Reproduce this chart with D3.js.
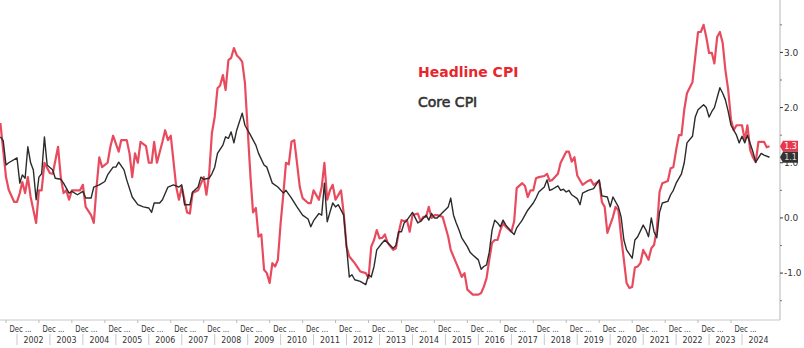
<!DOCTYPE html>
<head>
<meta charset="utf-8">
<script src="https://d3js.org/d3.v7.min.js"></script>
<style>
  body { margin: 0; background: #fff; }
  svg { display: block; }
</style>
</head>
<body>
<div id="chart"></div>
<script>
// months are counted from Jan 2002 (0 = Jan 2002, -6 = Jul 2001)
var headlineMonth = [-6,-4,-3,-1,0,1,2,3,4,5,7,8,9,10,12,13,15,16,17,18,19,20,23,24,25,27,28,29,30,31,33,34,35,37,38,40,41,42,43,44,45,47,48,49,50,51,53,54,55,56,58,59,60,62,63,64,66,68,69,70,71,72,73,74,75,76,77,78,79,80,81,82,83,84,85,86,87,88,89,90,91,92,93,94,95,96,97,98,99,100,101,102,103,104,106,107,108,110,111,112,113,114,115,116,118,119,120,121,123,125,127,128,129,130,131,132,133,134,135,137,138,139,140,141,142,143,144,146,147,148,149,150,151,152,153,155,156,157,158,160,161,162,163,164,166,168,169,170,171,172,173,174,175,176,177,178,180,181,182,184,185,186,187,188,189,190,192,193,194,195,197,198,200,201,202,203,204,206,208,209,210,212,213,214,215,217,218,219,220,221,222,223,224,225,226,227,228,229,230,231,232,233,234,235,237,238,239,240,241,242,243,244,246,247,248,249,250,251,252,253,254,255,256,257,258,259,260,261,262,264,265,266,267,268,269,270,272,273,274];
var headlineValue = [1.72,0.74,0.51,0.29,0.29,0.45,0.65,0.45,0.74,0.38,-0.09,0.5,0.5,1.0,0.81,0.8,1.29,0.74,0.45,0.5,0.33,0.5,0.5,0.6,0.2,0.05,-0.09,0.56,1.1,0.92,1.0,1.29,1.49,1.2,1.41,1.41,1.17,0.74,1.17,1.0,1.38,1.3,1.0,1.0,1.38,1.0,1.38,1.59,1.41,1.49,0.56,0.33,0.56,0.1,0.08,0.45,0.5,0.74,0.42,0.8,1.54,1.83,2.35,2.4,2.59,2.32,2.86,2.9,3.08,2.95,2.9,2.83,2.45,1.59,0.74,0.1,0.18,-0.34,-0.3,-0.94,-1.0,-1.18,-0.82,-0.88,-0.76,-0.09,0.45,1.0,0.97,1.38,1.41,1.0,0.56,0.36,0.27,0.27,0.5,0.33,0.56,1.0,0.33,0.5,0.6,0.33,0.5,0.08,-0.52,-0.7,-0.82,-0.97,-1.0,-1.09,-0.52,-0.4,-0.22,-0.37,-0.36,-0.3,-0.45,-0.58,-0.55,-0.27,-0.04,-0.06,-0.04,-0.25,0.05,0.08,-0.06,0.02,0.02,0.2,0.0,0.05,0.05,0.02,-0.16,-0.34,-0.58,-0.82,-0.94,-1.07,-1.0,-1.3,-1.39,-1.39,-1.36,-1.25,-1.09,-0.76,-0.45,-0.4,-0.4,-0.22,-0.09,-0.16,-0.25,-0.06,0.54,0.63,0.58,0.38,0.5,0.5,0.72,0.74,0.76,0.8,0.67,0.69,0.8,1.0,1.2,1.2,1.02,1.1,0.77,0.6,0.67,0.69,0.6,0.67,0.29,0.2,-0.27,0.02,0.2,0.14,-0.34,-0.76,-1.18,-1.27,-1.25,-0.9,-0.88,-0.82,-0.58,-0.67,-0.76,-0.55,-0.49,-0.22,0.47,0.63,0.67,0.9,0.92,1.23,1.5,1.5,1.96,2.26,2.46,2.92,3.37,3.37,3.5,3.28,2.99,2.99,2.8,3.28,3.37,3.17,2.68,2.32,1.78,1.59,1.68,1.68,1.41,1.68,1.23,1.1,1.01,1.38,1.38,1.28,1.3];

var coreMonth = [-6,-5,-4,-3,0,1,2,3,4,5,6,7,8,9,10,11,13,14,16,17,19,20,22,24,25,27,28,30,32,33,35,36,37,39,40,42,44,46,48,49,50,52,53,55,57,59,60,61,63,64,66,67,68,70,71,72,73,75,76,77,78,79,80,82,83,85,87,88,90,91,93,95,97,98,100,102,104,106,107,108,110,111,112,113,114,115,116,117,119,120,121,122,123,125,127,128,129,130,131,133,134,135,137,138,139,140,141,142,144,146,147,149,150,151,152,153,155,157,158,159,160,161,162,164,165,166,168,169,170,171,172,173,174,175,176,177,178,180,181,182,184,186,188,189,190,192,193,194,195,197,198,199,200,201,202,204,205,206,208,210,212,213,215,216,217,219,220,221,222,224,225,226,228,229,230,231,232,233,234,235,237,238,239,240,242,243,244,246,247,248,250,251,252,253,254,256,257,258,259,260,262,263,264,265,266,268,269,271,272,274];
var coreValue = [1.47,1.4,0.96,1.0,1.09,0.63,0.78,0.72,1.29,1.0,0.87,0.33,0.74,0.8,1.47,0.96,0.87,0.72,0.7,0.63,0.45,0.48,0.42,0.48,0.36,0.36,0.56,0.6,0.66,0.78,0.92,0.92,1.01,0.87,0.69,0.38,0.24,0.2,0.18,0.1,0.27,0.27,0.33,0.56,0.6,0.56,0.6,0.24,0.24,0.47,0.56,0.74,0.7,0.72,0.8,0.92,1.17,1.32,1.47,1.44,1.56,1.36,1.59,1.9,1.68,1.5,1.32,1.17,0.96,0.92,0.63,0.56,0.45,0.5,0.36,0.2,0.05,-0.02,-0.16,-0.05,0.08,0.05,0.63,-0.07,0.1,0.27,0.2,0.24,0.05,-0.52,-1.07,-1.03,-1.12,-1.15,-1.21,-1.03,-1.07,-0.88,-0.58,-0.45,-0.4,-0.45,-0.55,-0.5,-0.25,-0.25,-0.09,-0.04,0.1,-0.09,-0.06,0.05,-0.04,0.08,0.0,0.0,0.1,0.2,0.36,0.05,-0.09,-0.22,-0.36,-0.52,-0.62,-0.67,-0.76,-0.93,-0.88,-0.85,-0.62,-0.22,-0.04,-0.09,-0.16,-0.04,-0.13,-0.25,-0.3,-0.18,-0.04,0.14,0.27,0.36,0.47,0.56,0.69,0.5,0.52,0.58,0.5,0.52,0.47,0.5,0.42,0.35,0.24,0.45,0.5,0.53,0.69,0.4,0.38,0.2,0.38,0.2,0.02,-0.4,-0.58,-0.73,-0.4,-0.34,-0.13,-0.22,-0.34,0.0,-0.25,-0.36,0.1,0.27,0.3,0.42,0.5,0.63,0.8,1.0,1.36,1.48,1.83,1.96,2.05,2.0,1.83,1.93,2.0,2.36,2.26,2.14,1.93,1.68,1.5,1.36,1.48,1.36,1.5,1.2,1.01,1.17,1.14,1.1];

var years = d3.range(2002, 2025);
var yTicks = [-1, 0, 1, 2, 3];
var yMinorTicks = [-1.5, -0.5, 0.5, 1.5, 2.5, 3.5];
var lastHeadline = "1.3", lastCore = "1.1";

var width = 804, height = 348;
var plotRight = 780, plotBottom = 320;

var svg = d3.select("#chart")
  .append("svg")
    .attr("width", width)
    .attr("height", height);

// time axis: Jan 2002 sits at 17px, Jan 2024 at 742px
var x = d3.scaleTime()
  .domain([new Date(2002, 0, 1), new Date(2024, 0, 1)])
  .range([17, 742]);

var y = d3.scaleLinear()
  .domain([-1.85, 3.95])
  .range([plotBottom, 0]);

function toData(months, values) {
  return months.map(function(m, i) {
    return { date: d3.timeMonth.offset(new Date(2002, 0, 1), m), value: values[i] };
  });
}
var headline = toData(headlineMonth, headlineValue);
var core = toData(coreMonth, coreValue);

svg.append("clipPath").attr("id", "plotclip")
  .append("rect").attr("x", 0).attr("y", 0).attr("width", plotRight).attr("height", plotBottom);

var line = d3.line()
  .x(function(d) { return x(d.date); })
  .y(function(d) { return y(d.value); });

var plot = svg.append("g").attr("clip-path", "url(#plotclip)");

plot.append("path")
  .datum(headline)
  .attr("fill", "none")
  .attr("stroke", "#e94b5e")
  .attr("stroke-width", 2.2)
  .attr("stroke-linejoin", "round")
  .attr("d", line);

plot.append("path")
  .datum(core)
  .attr("fill", "none")
  .attr("stroke", "#2b2b2b")
  .attr("stroke-width", 1.4)
  .attr("stroke-linejoin", "round")
  .attr("d", line);

// right value axis
var yAxis = svg.append("g").attr("transform", "translate(" + plotRight + ",0)");
yAxis.append("line")
  .attr("y1", 0).attr("y2", plotBottom)
  .attr("stroke", "#b5b5b5");
yAxis.selectAll(".minor").data(yMinorTicks).enter().append("line")
  .attr("x1", 0).attr("x2", 2)
  .attr("y1", function(d) { return y(d); }).attr("y2", function(d) { return y(d); })
  .attr("stroke", "#777");
yAxis.selectAll(".major").data(yTicks).enter().append("line")
  .attr("x1", 0).attr("x2", 3)
  .attr("y1", function(d) { return y(d); }).attr("y2", function(d) { return y(d); })
  .attr("stroke", "#333");
yAxis.selectAll("text").data(yTicks).enter().append("text")
  .attr("x", 4)
  .attr("y", function(d) { return y(d); })
  .attr("dy", "0.35em")
  .style("font-family", "DejaVu Sans, sans-serif")
  .style("font-size", "9px")
  .attr("fill", "#333")
  .text(function(d) { return d3.format(".1f")(d).replace("\u2212", "-"); });

// last value tags (drawn over the axis labels, as in the original)
function tag(val, fill, textColor) {
  var cy = y(+val);
  var g = svg.append("g").attr("transform", "translate(" + plotRight + "," + cy + ")");
  g.append("path")
    .attr("d", "M0,0 L3,-5.5 L18,-5.5 L18,5.5 L3,5.5 Z")
    .attr("fill", fill);
  g.append("text")
    .attr("x", 10.5).attr("dy", "0.35em")
    .attr("text-anchor", "middle")
    .style("font-family", "DejaVu Sans, sans-serif")
    .style("font-size", "8px")
    .attr("fill", textColor)
    .text(val);
}
tag(lastHeadline, "#e8384f", "#fff");
tag(lastCore, "#333", "#ddd");

// bottom time axis, two rows
var xAxis = svg.append("g");
xAxis.append("line")
  .attr("x1", 0).attr("x2", plotRight)
  .attr("y1", plotBottom).attr("y2", plotBottom)
  .attr("stroke", "#c8c8c8");

xAxis.selectAll(".tick").data(years).enter().append("line")
  .attr("x1", function(d) { return x(new Date(d, 0, 1)) - 11; })
  .attr("x2", function(d) { return x(new Date(d, 0, 1)) - 11; })
  .attr("y1", plotBottom).attr("y2", plotBottom + 3)
  .attr("stroke", "#bbb");

xAxis.selectAll(".sep").data(years).enter().append("line")
  .attr("x1", function(d) { return x(new Date(d, 0, 1)); })
  .attr("x2", function(d) { return x(new Date(d, 0, 1)); })
  .attr("y1", 334).attr("y2", 345)
  .attr("stroke", "#c8c8c8");

xAxis.selectAll(".mon").data(years).enter().append("text")
  .attr("x", function(d) { return x(new Date(d, 0, 1)) + 3.5; })
  .attr("y", 332)
  .attr("text-anchor", "middle")
  .attr("textLength", 22)
  .attr("lengthAdjust", "spacingAndGlyphs")
  .style("font-family", "DejaVu Sans, sans-serif")
  .style("font-size", "9px")
  .attr("fill", "#333")
  .text("Dec ...");

xAxis.selectAll(".yr").data(years).enter().append("text")
  .attr("x", function(d) { return (x(new Date(d, 0, 1)) + x(new Date(d + 1, 0, 1))) / 2; })
  .attr("y", 343)
  .attr("text-anchor", "middle")
  .attr("textLength", 20)
  .attr("lengthAdjust", "spacingAndGlyphs")
  .style("font-family", "DejaVu Sans, sans-serif")
  .style("font-size", "9px")
  .attr("fill", "#333")
  .text(function(d) { return d; });

// legend
svg.append("text")
  .attr("x", 418).attr("y", 77)
  .style("font-family", "DejaVu Sans, sans-serif")
  .style("font-size", "14px")
  .style("font-weight", "bold")
  .attr("fill", "#e8262d")
  .text("Headline CPI");

svg.append("text")
  .attr("x", 418).attr("y", 107)
  .style("font-family", "DejaVu Sans, sans-serif")
  .style("font-size", "14px")
  .attr("fill", "#333")
  .attr("stroke", "#333")
  .attr("stroke-width", 0.6)
  .text("Core CPI");
</script>
</body>
</html>
